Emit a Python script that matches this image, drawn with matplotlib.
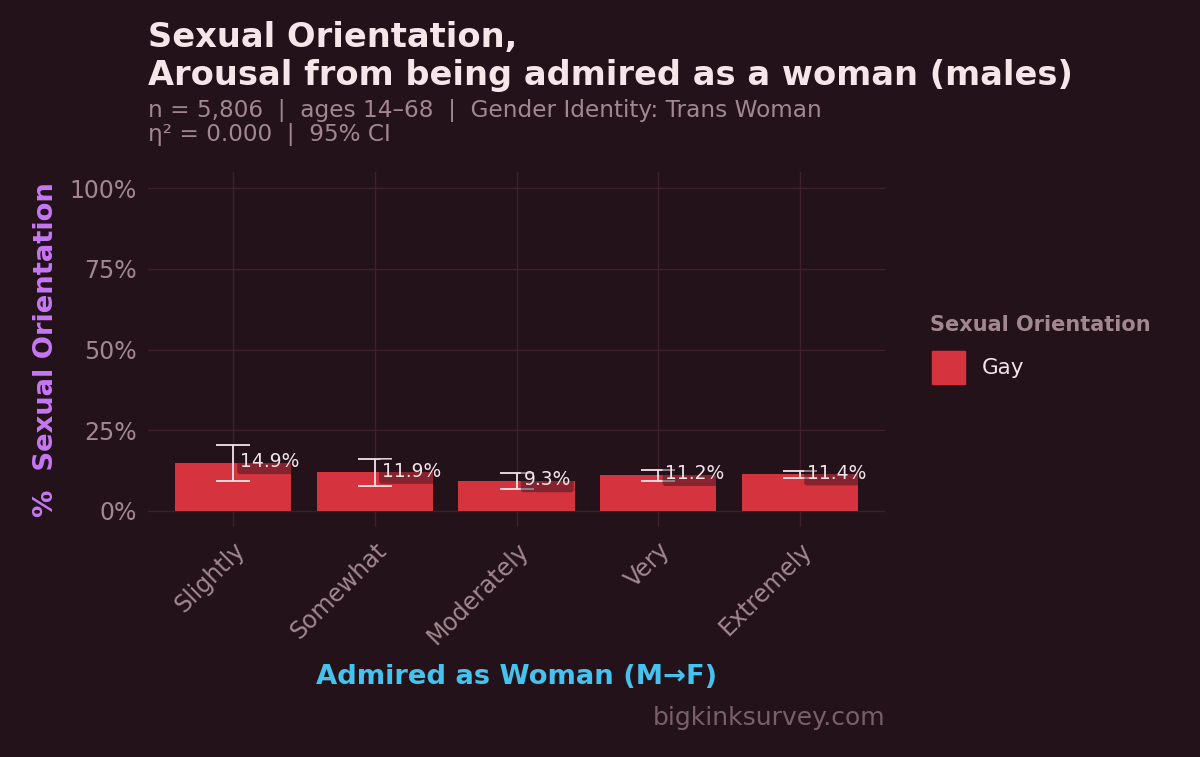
import matplotlib.pyplot as plt
import matplotlib.patches as mpatches
from matplotlib.ticker import FuncFormatter

# Daten
categories = ['Slightly', 'Somewhat', 'Moderately', 'Very', 'Extremely']
pct_gay = [14.9, 11.9, 9.3, 11.2, 11.4]
ci_low = [9.1, 7.7, 6.7, 9.4, 10.1]
ci_high = [20.4, 16.0, 11.7, 12.7, 12.4]

bg = '#24121a'
bar_col = '#d5343f'
grid_col = '#3e1f2b'
muted = '#a3878f'

plt.rcParams['font.family'] = ['DejaVu Sans']
fig = plt.figure(figsize=(12, 7.57), dpi=100, facecolor=bg)
ax = fig.add_axes([148 / 1200, 1 - 527 / 757, (885 - 148) / 1200, (527 - 172) / 757])
ax.set_facecolor(bg)

x = list(range(len(categories)))
ax.bar(x, pct_gay, width=0.82, color=bar_col, zorder=2)
yerr = [[p - l for p, l in zip(pct_gay, ci_low)], [h - p for p, h in zip(pct_gay, ci_high)]]
ax.errorbar(x, pct_gay, yerr=yerr, fmt='none', ecolor='#f2e4e8', elinewidth=1.3,
            capsize=12, capthick=1.3, zorder=3)

for xi, v in zip(x, pct_gay):
    ax.text(xi + 0.05, v + 0.3, f'{v}%', color='#f2e4e8', fontsize=13.5, ha='left', va='center',
            zorder=4, bbox=dict(boxstyle='round,pad=0.15', fc=bg, ec='none', alpha=0.45))

ax.set_xlim(-0.6, 4.6)
ax.set_ylim(-5, 105)
ax.set_yticks([0, 25, 50, 75, 100])
ax.yaxis.set_major_formatter(FuncFormatter(lambda v, p: f'{int(v)}%'))
ax.set_xticks(x)
ax.set_xticklabels(categories, rotation=45, ha='right', rotation_mode='anchor')
ax.tick_params(colors=muted, labelsize=17, length=0, pad=8)
ax.grid(True, color=grid_col, linewidth=1, zorder=0)
for s in ax.spines.values():
    s.set_visible(False)

ax.set_ylabel('%  Sexual Orientation', color='#c678f5', fontsize=19.7, fontweight='bold', labelpad=8)
ax.set_xlabel('Admired as Woman (M→F)', color='#45c3ee', fontsize=19.7, fontweight='bold', labelpad=11)

# Titel
fig.text(148 / 1200, 1 - 38 / 757, 'Sexual Orientation,', color='#f5e6ea', fontsize=24.2,
         fontweight='bold', va='center')
fig.text(148 / 1200, 1 - 75 / 757, 'Arousal from being admired as a woman (males)', color='#f5e6ea',
         fontsize=24.2, fontweight='bold', va='center')
fig.text(148 / 1200, 1 - 110 / 757, 'n = 5,806  |  ages 14–68  |  Gender Identity: Trans Woman',
         color=muted, fontsize=16.7, va='center')
fig.text(148 / 1200, 1 - 134 / 757, 'η² = 0.000  |  95% CI', color=muted, fontsize=16.7, va='center')

# Legende
fig.text(930 / 1200, 1 - 325 / 757, 'Sexual Orientation', color=muted, fontsize=15,
         fontweight='bold', va='center')
fig.patches.append(mpatches.Rectangle((932 / 1200, 1 - 384 / 757), 33 / 1200, 33 / 757,
                                      transform=fig.transFigure, color=bar_col))
fig.text(982 / 1200, 1 - 368 / 757, 'Gay', color='#f2e4e8', fontsize=15.5, va='center')

fig.text(885 / 1200, 1 - 718 / 757, 'bigkinksurvey.com', color='#7a5f68', fontsize=18,
         ha='right', va='center')

plt.savefig('out.png', dpi=100, facecolor=bg)
